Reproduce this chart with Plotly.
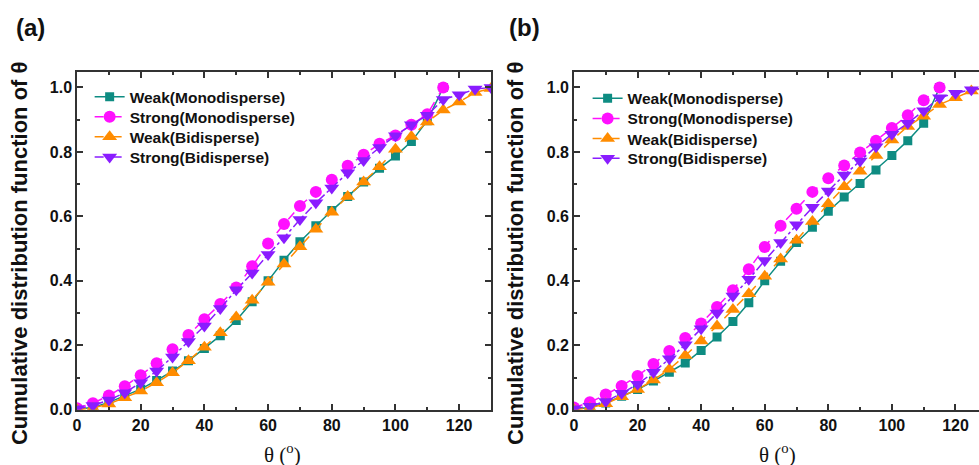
import plotly.graph_objects as go

theta = [0, 5, 10, 15, 20, 25, 30, 35, 40, 45, 50, 55, 60, 65, 70, 75, 80, 85, 90, 95, 100, 105, 110, 115, 120, 125, 130]
theta_mono = theta[:24]

# Panel (a)
a_weak_mono = [0.002, 0.007, 0.023, 0.044, 0.064, 0.091, 0.12, 0.152, 0.19, 0.23, 0.277, 0.335, 0.4, 0.464,
               0.521, 0.571, 0.618, 0.662, 0.707, 0.749, 0.787, 0.832, 0.897, 1.0]
a_strong_mono = [0.005, 0.02, 0.044, 0.073, 0.107, 0.144, 0.188, 0.232, 0.281, 0.328, 0.379, 0.445, 0.516, 0.576,
                 0.632, 0.676, 0.714, 0.757, 0.791, 0.825, 0.851, 0.884, 0.917, 1.0]
a_weak_bi = [0.0, 0.005, 0.018, 0.037, 0.058, 0.084, 0.115, 0.152, 0.194, 0.239, 0.288, 0.34, 0.396, 0.452,
             0.506, 0.56, 0.613, 0.662, 0.707, 0.754, 0.808, 0.848, 0.893, 0.93, 0.955, 0.984, 0.997]
a_strong_bi = [0.003, 0.013, 0.03, 0.053, 0.084, 0.12, 0.164, 0.212, 0.26, 0.314, 0.372, 0.424, 0.482, 0.534,
               0.59, 0.642, 0.688, 0.735, 0.773, 0.814, 0.85, 0.884, 0.914, 0.963, 0.977, 0.995, 1.0]

# Panel (b)
b_weak_mono = [0.002, 0.007, 0.021, 0.042, 0.063, 0.089, 0.116, 0.145, 0.184, 0.226, 0.274, 0.332, 0.4, 0.461,
               0.519, 0.566, 0.616, 0.66, 0.702, 0.744, 0.789, 0.835, 0.889, 1.0]
b_strong_mono = [0.007, 0.023, 0.047, 0.074, 0.105, 0.142, 0.182, 0.223, 0.268, 0.319, 0.371, 0.436, 0.505, 0.571,
                 0.624, 0.676, 0.718, 0.758, 0.798, 0.835, 0.874, 0.914, 0.96, 1.0]
b_weak_bi = [0.0, 0.005, 0.019, 0.04, 0.063, 0.092, 0.126, 0.168, 0.213, 0.26, 0.311, 0.36, 0.414, 0.468,
             0.526, 0.584, 0.639, 0.692, 0.74, 0.789, 0.837, 0.879, 0.911, 0.947, 0.968, 0.989, 1.0]
b_strong_bi = [0.003, 0.011, 0.026, 0.051, 0.079, 0.116, 0.158, 0.202, 0.251, 0.3, 0.353, 0.405, 0.463, 0.519,
               0.574, 0.628, 0.679, 0.728, 0.772, 0.816, 0.855, 0.889, 0.928, 0.968, 0.982, 0.993, 1.0]

names = ["Weak(Monodisperse)", "Strong(Monodisperse)", "Weak(Bidisperse)", "Strong(Bidisperse)"]
colors = ["#0e8c82", "#ff10ff", "#ff8c00", "#8a1cff"]
symbols = ["square", "circle", "triangle-up", "triangle-down"]
sizes = [9, 12, 13, 13]
dashes = ["solid", "dash", "dash", "dashdot"]

W = 979
S = 476 / 465          # vertical compensation for the capture
H = 476


def py(v):
    """reference pixel row -> paper fraction"""
    return 1 - (v * S) / H


fig = go.Figure()
panels = [
    ("x", "y", 0, [a_weak_mono, a_strong_mono, a_weak_bi, a_strong_bi]),
    ("x2", "y2", 4, [b_weak_mono, b_strong_mono, b_weak_bi, b_strong_bi]),
]
for xa, ya, off, series in panels:
    for i, vals in enumerate(series):
        xs = theta_mono if len(vals) == len(theta_mono) else theta
        k = off + i + 1
        fig.add_trace(go.Scatter(
            x=xs, y=vals, mode="lines+markers", name=names[i],
            xaxis=xa, yaxis=ya, legend="legend" if k == 1 else "legend%d" % k,
            line=dict(color=colors[i], width=1.5, dash=dashes[i]),
            marker=dict(symbol=symbols[i], size=sizes[i], color=colors[i], line=dict(width=0)),
        ))

ydom = [py(408), py(72)]
tickfont = dict(family="Liberation Sans, Arial", size=16, color="#111", weight="bold")
ax_common = dict(showline=True, linecolor="#333", linewidth=1.5, ticks="inside", ticklen=6, tickwidth=1.5,
                 tickcolor="#333", showgrid=False, zeroline=False, tickfont=tickfont)
legfont = dict(family="Liberation Sans, Arial", size=15.5, color="#111", weight="bold")

layout = dict(
    width=W, height=H, margin=dict(l=0, r=0, t=0, b=0),
    plot_bgcolor="white", paper_bgcolor="white",
    font=dict(family="Liberation Sans, Arial", color="#111"),
    xaxis=dict(domain=[73.3 / W, 489 / W], range=[0, 130], dtick=20, tick0=0, mirror="allticks",
               minor=dict(ticks="inside", ticklen=3, dtick=10, tickwidth=1.5, tickcolor="#333"),
               anchor="y", **ax_common),
    yaxis=dict(domain=ydom, range=[0, 1.047], dtick=0.2, tickformat=".1f", mirror="allticks",
               minor=dict(ticks="inside", ticklen=3, dtick=0.1, tickwidth=1.5, tickcolor="#333"),
               anchor="x", **ax_common),
    xaxis2=dict(domain=[572.3 / W, 1.0], range=[0, 127.4], dtick=20, tick0=0, mirror="allticks",
                minor=dict(ticks="inside", ticklen=3, dtick=10, tickwidth=1.5, tickcolor="#333"),
                anchor="y2", **ax_common),
    yaxis2=dict(domain=ydom, range=[0, 1.047], dtick=0.2, tickformat=".1f", mirror=False,
                minor=dict(ticks="inside", ticklen=3, dtick=0.1, tickwidth=1.5, tickcolor="#333"),
                anchor="x2", **ax_common),
    showlegend=True,
)
rows_a = [96.7, 116.7, 136.7, 156.7]
rows_b = [98.3, 118.3, 138.3, 158.0]
for j in range(8):
    key = "legend" if j == 0 else "legend%d" % (j + 1)
    if j < 4:
        lx, ly = 86, rows_a[j]
    else:
        lx, ly = 586, rows_b[j - 4]
    layout[key] = dict(x=lx / W, y=py(ly), xanchor="left", yanchor="middle", bgcolor="rgba(0,0,0,0)",
                       font=legfont, borderwidth=0)
fig.update_layout(**layout)

title_font = dict(family="Liberation Sans, Arial", size=22, color="#111", weight="bold")
xt_font = dict(family="Liberation Serif, Times New Roman", size=21, color="#111")
for cx in [15, 513]:
    fig.add_annotation(x=cx / W, y=py(252), xref="paper", yref="paper", text="Cumulative distribution function of θ",
                       textangle=-90, showarrow=False, font=title_font, xanchor="center", yanchor="middle")
for cx in [280, 777]:
    fig.add_annotation(x=cx / W, y=py(452), xref="paper", yref="paper", text="θ (<sup>o</sup>)",
                       showarrow=False, font=xt_font, xanchor="center", yanchor="middle")
for cx, lab in [(27, "(a)"), (523, "(b)")]:
    fig.add_annotation(x=cx / W, y=py(27), xref="paper", yref="paper", text=lab,
                       showarrow=False,
                       font=dict(family="Liberation Sans Narrow, Liberation Sans, Arial", size=24, color="#111", weight="bold"),
                       xanchor="center", yanchor="middle")

fig.write_html("out.html", config={"displayModeBar": False},
               post_script="document.body.style.margin='0px';document.body.style.overflow='hidden';")
